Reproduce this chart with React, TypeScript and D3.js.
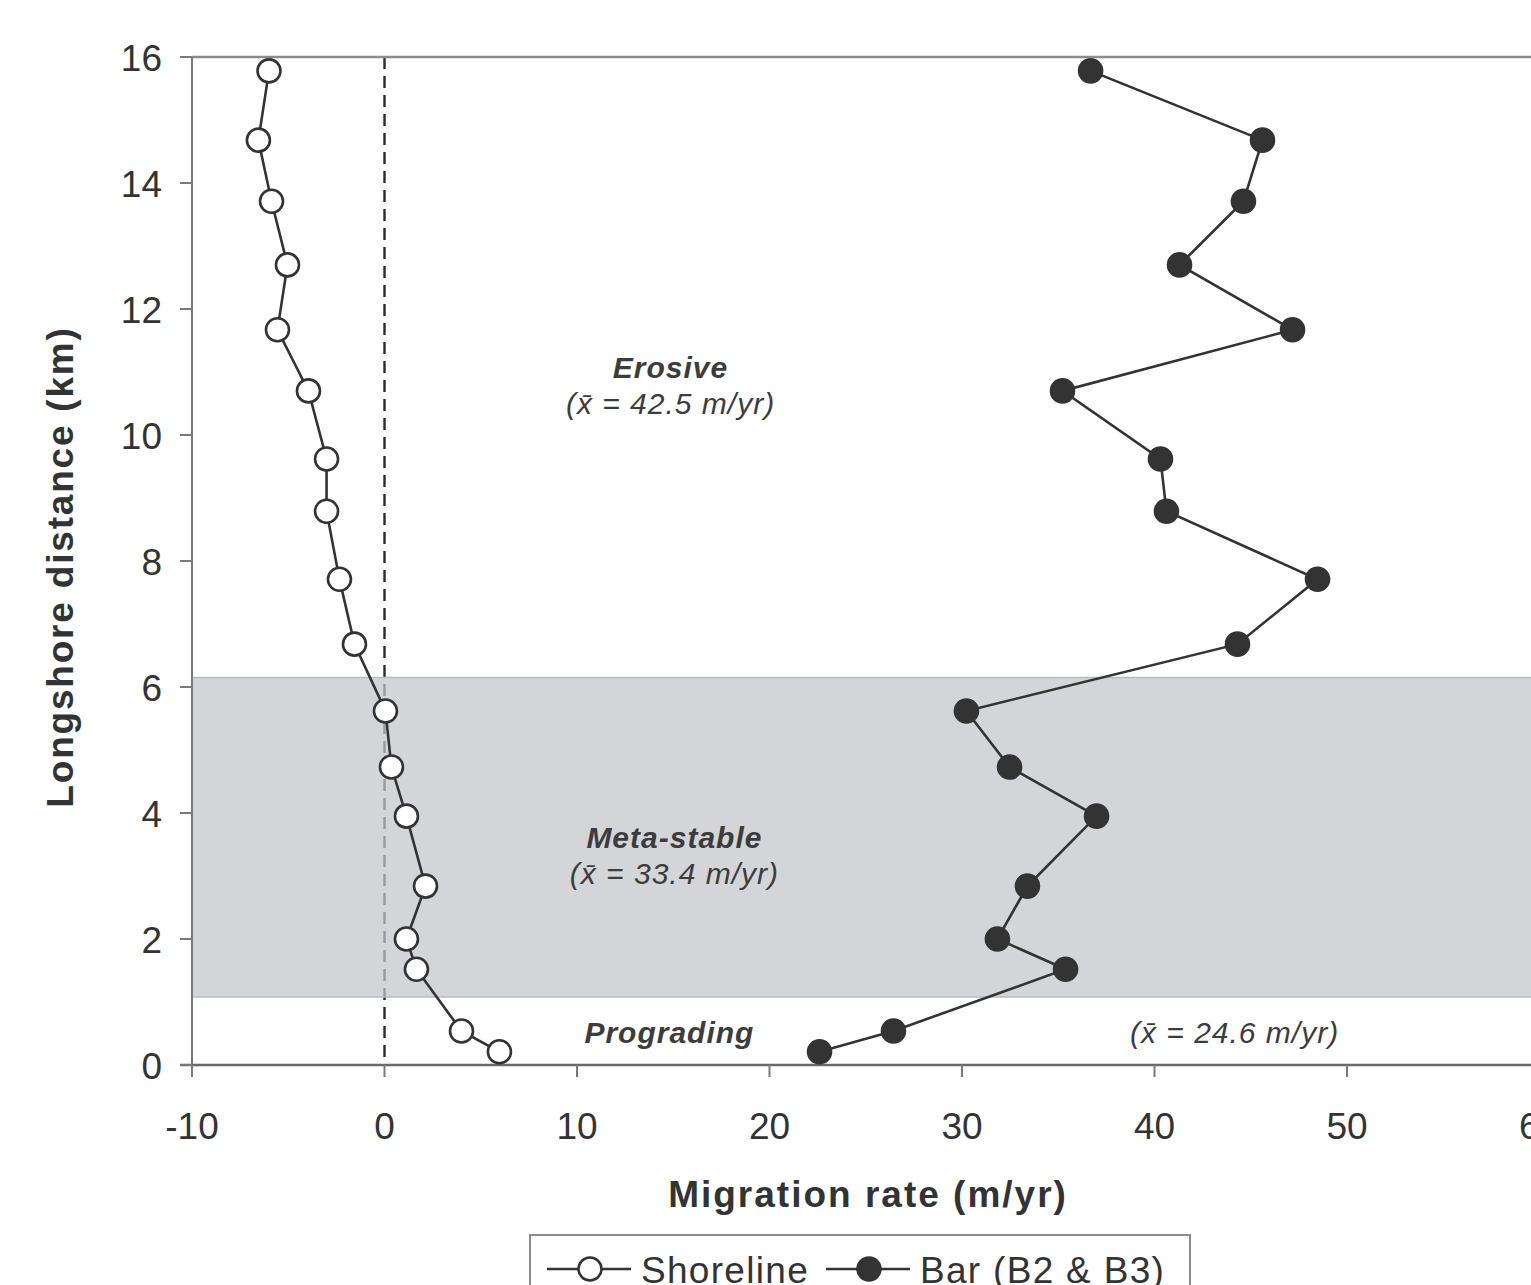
import React, { useEffect, useRef } from 'react';
import * as d3 from 'd3';

// longshore distance (km) of each transect
const distance = [15.78, 14.68, 13.71, 12.7, 11.67, 10.7, 9.62, 8.79, 7.71, 6.68, 5.62, 4.73, 3.95, 2.84, 2.0, 1.52, 0.54, 0.21];
// shoreline migration rate (m/yr)
const shoreline = [-6.0, -6.55, -5.87, -5.04, -5.56, -3.95, -3.01, -3.01, -2.34, -1.56, 0.05, 0.36, 1.14, 2.13, 1.14, 1.66, 4.0, 5.97];
// bar (B2 & B3) migration rate (m/yr)
const bar = [36.68, 45.61, 44.62, 41.3, 47.17, 35.22, 40.31, 40.62, 48.47, 44.31, 30.23, 32.47, 36.99, 33.4, 31.84, 35.38, 26.44, 22.6];

const xTicks = [-10, 0, 10, 20, 30, 40, 50, 60];
const yTicks = [0, 2, 4, 6, 8, 10, 12, 14, 16];

// meta-stable zone limits (km)
const bandRange = [1.08, 6.15];

const zones = [
  { name: 'Erosive', mean: '42.5', x: 14.86, y: 10.9 },
  { name: 'Meta-stable', mean: '33.4', x: 15.06, y: 3.44 },
];
const prograding = { name: 'Prograding', mean: '24.6', x: 14.8, meanX: 44.16, y: 0.35 };

export default function App() {
  const svgRef = useRef<SVGSVGElement>(null);

  useEffect(() => {
    if (!svgRef.current) return;
    const svg = d3.select(svgRef.current);
    svg.selectAll('*').remove();

    const left = 192;
    const top = 57;
    const bottom = 1065;
    const font = "'Liberation Sans', Arial, sans-serif";

    const x = d3.scaleLinear().domain([-10, 60]).range([left, left + 70 * 19.25]);
    const y = d3.scaleLinear().domain([0, 16]).range([bottom, top]);

    // dashed zero line (drawn first so the band dims it)
    svg.append('line')
      .attr('x1', x(0)).attr('x2', x(0))
      .attr('y1', top).attr('y2', bottom)
      .attr('stroke', '#2a2a2a')
      .attr('stroke-width', 2.4)
      .attr('stroke-dasharray', '12,7');

    // meta-stable band
    svg.append('rect')
      .attr('x', left)
      .attr('y', y(bandRange[1]))
      .attr('width', x(60) - left)
      .attr('height', y(bandRange[0]) - y(bandRange[1]))
      .attr('fill', '#c4c5c9')
      .attr('fill-opacity', 0.72);
    bandRange.forEach(v => {
      svg.append('line')
        .attr('x1', left).attr('x2', x(60))
        .attr('y1', y(v)).attr('y2', y(v))
        .attr('stroke', '#b9babd')
        .attr('stroke-width', 1.5);
    });

    // frame and axes
    svg.append('line')
      .attr('x1', left).attr('x2', x(60))
      .attr('y1', top).attr('y2', top)
      .attr('stroke', '#8c8c8c').attr('stroke-width', 2.5);
    svg.append('line')
      .attr('x1', left).attr('x2', left)
      .attr('y1', top).attr('y2', bottom)
      .attr('stroke', '#7a7a7a').attr('stroke-width', 2);
    svg.append('line')
      .attr('x1', left - 12).attr('x2', x(60))
      .attr('y1', bottom).attr('y2', bottom)
      .attr('stroke', '#6a6a6a').attr('stroke-width', 2.5);

    const yAxis = svg.append('g');
    yTicks.forEach(t => {
      yAxis.append('line')
        .attr('x1', left - 12).attr('x2', left)
        .attr('y1', y(t)).attr('y2', y(t))
        .attr('stroke', '#7a7a7a').attr('stroke-width', 2);
      yAxis.append('text')
        .attr('x', 162).attr('y', y(t) + 14)
        .attr('text-anchor', 'end')
        .style('font-family', font).style('font-size', '37px')
        .attr('fill', '#333')
        .text(t);
    });

    const xAxis = svg.append('g');
    xTicks.forEach(t => {
      xAxis.append('line')
        .attr('x1', x(t)).attr('x2', x(t))
        .attr('y1', bottom).attr('y2', bottom + 12)
        .attr('stroke', '#7a7a7a').attr('stroke-width', 2);
      xAxis.append('text')
        .attr('x', x(t)).attr('y', 1139)
        .attr('text-anchor', 'middle')
        .style('font-family', font).style('font-size', '37px')
        .attr('fill', '#333')
        .text(t);
    });

    // axis titles
    svg.append('text')
      .attr('x', 868).attr('y', 1207)
      .attr('text-anchor', 'middle')
      .style('font-family', font).style('font-size', '37px').style('font-weight', 'bold')
      .style('letter-spacing', '2px')
      .attr('fill', '#333')
      .text('Migration rate (m/yr)');
    svg.append('text')
      .attr('transform', 'translate(73,567) rotate(-90)')
      .attr('text-anchor', 'middle')
      .style('font-family', font).style('font-size', '37px').style('font-weight', 'bold')
      .style('letter-spacing', '1.8px')
      .attr('fill', '#333')
      .text('Longshore distance (km)');

    // zone annotations
    const zoneText = (tx: number, ty: number, s: string, bold: boolean) =>
      svg.append('text')
        .attr('x', tx).attr('y', ty)
        .attr('text-anchor', 'middle')
        .style('font-family', font).style('font-size', '30px')
        .style('letter-spacing', '1px')
        .style('font-style', 'italic').style('font-weight', bold ? 'bold' : 'normal')
        .attr('fill', '#3c3c3c')
        .text(s);
    zones.forEach(z => {
      zoneText(x(z.x), y(z.y), z.name, true);
      zoneText(x(z.x), y(z.y) + 36, `(x\u0304 = ${z.mean} m/yr)`, false);
    });
    zoneText(x(prograding.x), y(prograding.y), prograding.name, true);
    zoneText(x(prograding.meanX), y(prograding.y), `(x\u0304 = ${prograding.mean} m/yr)`, false);

    // series
    const line = d3.line<number>()
      .x(d => x(d))
      .y((_, i) => y(distance[i]));

    const drawSeries = (vals: number[], fill: string) => {
      svg.append('path')
        .attr('d', line(vals) as string)
        .attr('fill', 'none')
        .attr('stroke', '#333')
        .attr('stroke-width', 2.6);
      svg.append('g').selectAll('circle')
        .data(vals)
        .enter()
        .append('circle')
        .attr('cx', d => x(d))
        .attr('cy', (_, i) => y(distance[i]))
        .attr('r', 11.5)
        .attr('fill', fill)
        .attr('stroke', '#333')
        .attr('stroke-width', 2.6);
    };
    drawSeries(shoreline, '#fff');
    drawSeries(bar, '#333');

    // legend
    const lg = svg.append('g');
    lg.append('rect')
      .attr('x', 530).attr('y', 1235)
      .attr('width', 660).attr('height', 80)
      .attr('fill', '#fff')
      .attr('stroke', '#8c8c8c').attr('stroke-width', 2);
    const items = [
      { label: 'Shoreline', fill: '#fff', x0: 547 },
      { label: 'Bar (B2 & B3)', fill: '#333', x0: 826 },
    ];
    items.forEach(it => {
      lg.append('line')
        .attr('x1', it.x0).attr('x2', it.x0 + 84)
        .attr('y1', 1269).attr('y2', 1269)
        .attr('stroke', '#333').attr('stroke-width', 2.6);
      lg.append('circle')
        .attr('cx', it.x0 + 43).attr('cy', 1269)
        .attr('r', 11.5)
        .attr('fill', it.fill)
        .attr('stroke', '#333').attr('stroke-width', 2.6);
      lg.append('text')
        .attr('x', it.x0 + 94).attr('y', 1283)
        .style('font-family', font).style('font-size', '37px')
        .style('letter-spacing', '1.3px')
        .attr('fill', '#333')
        .text(it.label);
    });
  }, []);

  return (
    <svg
      ref={svgRef}
      width={1531}
      height={1285}
      style={{ position: 'absolute', left: 0, top: 0, background: '#fff' }}
    />
  );
}
